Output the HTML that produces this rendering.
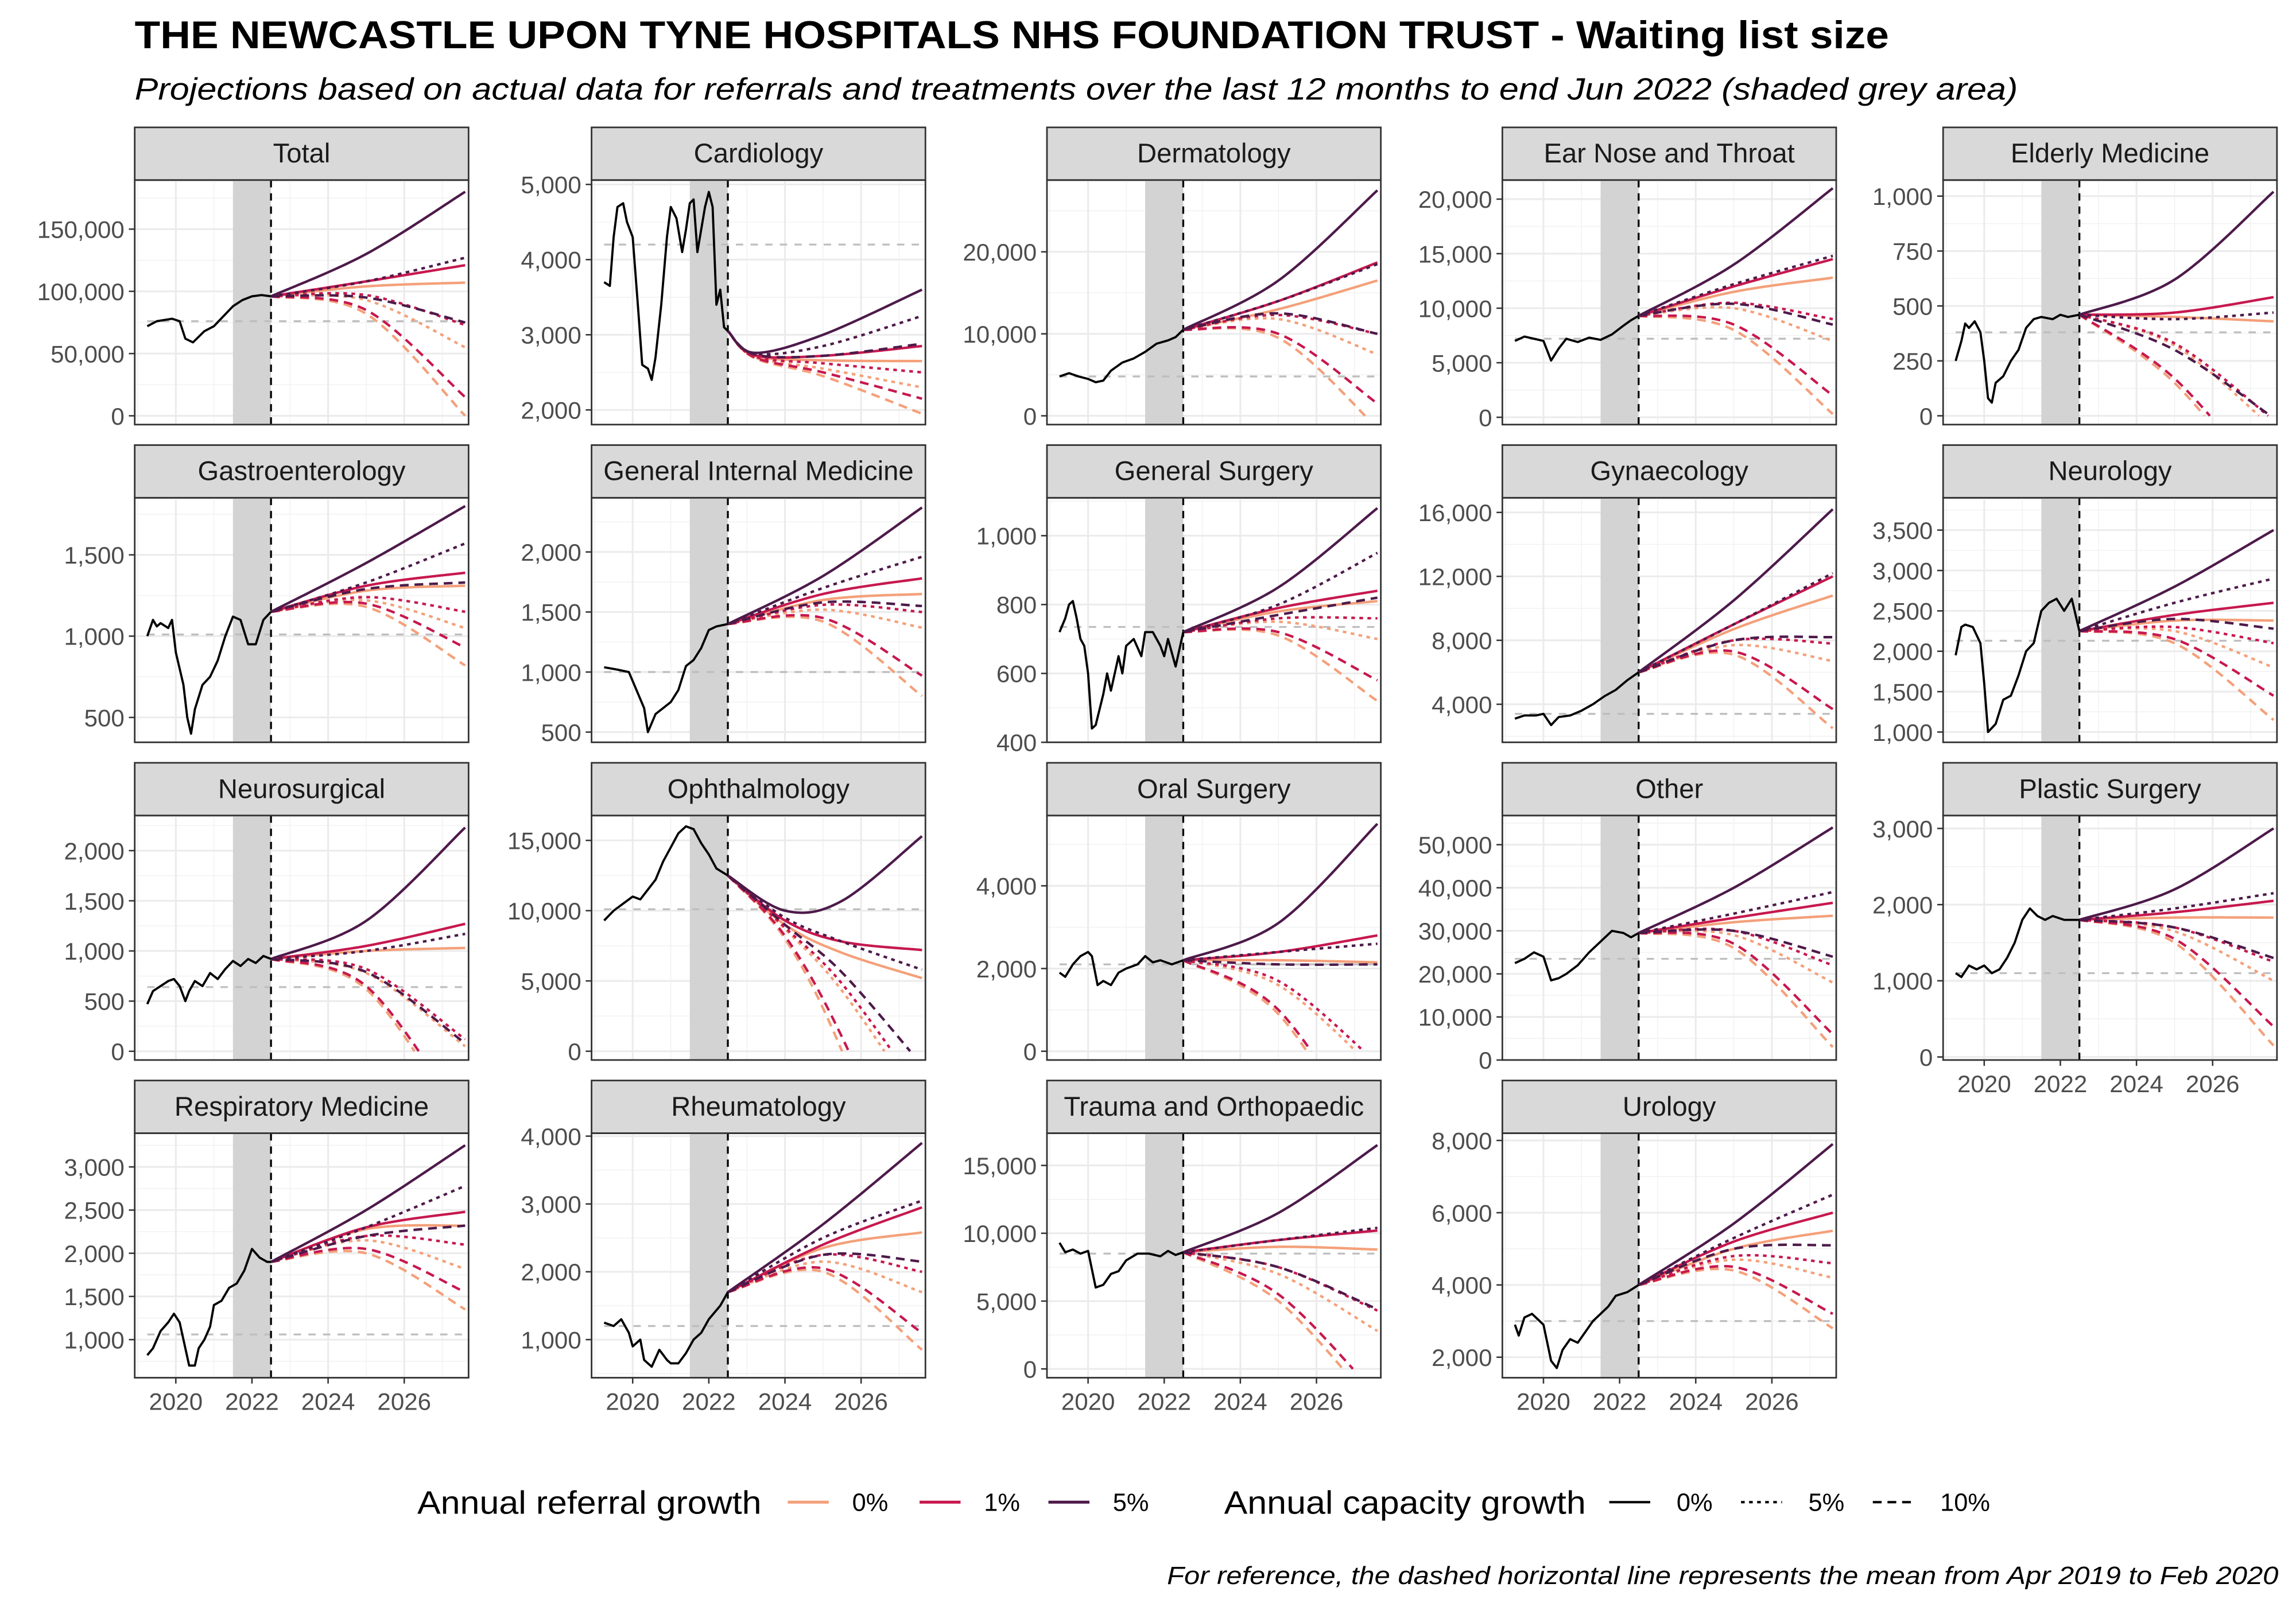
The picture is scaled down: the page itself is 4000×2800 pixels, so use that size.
<!DOCTYPE html>
<html><head><meta charset="utf-8">
<style>
html,body{margin:0;padding:0;background:#fff;}
svg{display:block;font-family:"Liberation Sans",sans-serif;}
</style></head>
<body>
<svg id="chart" width="4000" height="2800" viewBox="0 0 1568 1097.6" xmlns="http://www.w3.org/2000/svg">
<text x="92" y="33" font-size="26.5" font-weight="bold" fill="#000" textLength="1198" lengthAdjust="spacingAndGlyphs">THE NEWCASTLE UPON TYNE HOSPITALS NHS FOUNDATION TRUST - Waiting list size</text>
<text x="92" y="68" font-size="21" font-style="italic" fill="#000" textLength="1286" lengthAdjust="spacingAndGlyphs">Projections based on actual data for referrals and treatments over the last 12 months to end Jun 2022 (shaded grey area)</text>
<g id="panels"></g>
<g>
<text x="285" y="1034" font-size="22" textLength="235" lengthAdjust="spacingAndGlyphs">Annual referral growth</text>
<line x1="538" y1="1026" x2="566" y2="1026" stroke="#F4A07A" stroke-width="2"/>
<text x="582" y="1032" font-size="17">0%</text>
<line x1="628" y1="1026" x2="656" y2="1026" stroke="#C7184E" stroke-width="2"/>
<text x="672" y="1032" font-size="17">1%</text>
<line x1="716" y1="1026" x2="744" y2="1026" stroke="#4D1A4A" stroke-width="2"/>
<text x="760" y="1032" font-size="17">5%</text>
<text x="836" y="1034" font-size="22" textLength="247" lengthAdjust="spacingAndGlyphs">Annual capacity growth</text>
<line x1="1099" y1="1026" x2="1127" y2="1026" stroke="#000" stroke-width="1.6"/>
<text x="1145" y="1032" font-size="17">0%</text>
<line x1="1189" y1="1026" x2="1217" y2="1026" stroke="#000" stroke-width="1.6" stroke-dasharray="2.5 3"/>
<text x="1235" y="1032" font-size="17">5%</text>
<line x1="1279" y1="1026" x2="1307" y2="1026" stroke="#000" stroke-width="1.6" stroke-dasharray="6 4"/>
<text x="1325" y="1032" font-size="17">10%</text>
</g>
<text x="797" y="1082" font-size="17" font-style="italic" textLength="759" lengthAdjust="spacingAndGlyphs">For reference, the dashed horizontal line represents the mean from Apr 2019 to Feb 2020</text>
</svg>
<script>
// Panel names
const panelNames = ["Total","Cardiology","Dermatology","Ear Nose and Throat","Elderly Medicine","Gastroenterology","General Internal Medicine","General Surgery","Gynaecology","Neurology","Neurosurgical","Ophthalmology","Oral Surgery","Other","Plastic Surgery","Respiratory Medicine","Rheumatology","Trauma and Orthopaedic","Urology"];
// y domains [lo, hi]
const yDomains = [[-7060,189400],[1805,5058],[-1070,28750],[-670,21745],[-40,1073],[347,1851],[415,2451],[400,1110],[1620,16915],[873,3900],[-87,2350],[-625,16770],[-212,5700],[0,56780],[-40,3170],[559,3390],[438,4043],[-650,17376],[1432,8200]];
// y tick values
const yTicks = [[0,50000,100000,150000],[2000,3000,4000,5000],[0,10000,20000],[0,5000,10000,15000,20000],[0,250,500,750,1000],[500,1000,1500],[500,1000,1500,2000],[400,600,800,1000],[4000,8000,12000,16000],[1000,1500,2000,2500,3000,3500],[0,500,1000,1500,2000],[0,5000,10000,15000],[0,2000,4000],[0,10000,20000,30000,40000,50000],[0,1000,2000,3000],[1000,1500,2000,2500,3000],[1000,2000,3000,4000],[0,5000,10000,15000],[2000,4000,6000,8000]];
// pre-pandemic means
const means = [76000,4200,4800,7200,380,1010,1000,735,3400,2130,640,10100,2100,23500,1100,1060,1200,8500,3000];
// historical series: [year, value]
const hist = [
[[2019.25,72000],[2019.5,76000],[2019.9,78000],[2020.1,76000],[2020.25,62000],[2020.45,59000],[2020.75,68000],[2021,72000],[2021.25,80000],[2021.5,88000],[2021.75,93000],[2022,96000],[2022.25,97000],[2022.5,96000]],
[[2019.25,3700],[2019.4,3650],[2019.5,4300],[2019.6,4700],[2019.75,4750],[2019.85,4500],[2020,4300],[2020.15,3300],[2020.25,2600],[2020.4,2550],[2020.5,2400],[2020.6,2700],[2020.75,3400],[2020.9,4300],[2021,4700],[2021.15,4550],[2021.3,4100],[2021.4,4400],[2021.5,4750],[2021.6,4800],[2021.7,4100],[2021.8,4400],[2021.9,4700],[2022,4900],[2022.1,4700],[2022.2,3400],[2022.3,3600],[2022.4,3100],[2022.5,3050]],
[[2019.25,4800],[2019.5,5200],[2019.75,4800],[2020,4500],[2020.2,4100],[2020.4,4300],[2020.6,5500],[2020.9,6500],[2021.2,7000],[2021.5,7800],[2021.8,8800],[2022.1,9200],[2022.3,9600],[2022.5,10500]],
[[2019.25,7000],[2019.5,7400],[2019.75,7200],[2020,7000],[2020.2,5200],[2020.4,6300],[2020.6,7200],[2020.9,6900],[2021.2,7300],[2021.5,7100],[2021.8,7600],[2022.1,8400],[2022.3,8900],[2022.5,9300]],
[[2019.25,250],[2019.4,340],[2019.5,420],[2019.6,400],[2019.75,430],[2019.9,380],[2020,250],[2020.1,80],[2020.2,60],[2020.3,150],[2020.5,180],[2020.7,250],[2020.9,300],[2021.1,400],[2021.3,440],[2021.5,450],[2021.8,440],[2022,460],[2022.2,450],[2022.5,460]],
[[2019.25,1000],[2019.4,1100],[2019.5,1060],[2019.6,1080],[2019.8,1050],[2019.9,1100],[2020,900],[2020.2,700],[2020.3,500],[2020.4,400],[2020.5,550],[2020.7,700],[2020.9,750],[2021.1,850],[2021.3,1000],[2021.5,1120],[2021.7,1100],[2021.9,950],[2022.1,950],[2022.3,1100],[2022.5,1150]],
[[2019.25,1040],[2019.6,1020],[2019.9,1000],[2020.1,850],[2020.3,700],[2020.4,500],[2020.6,650],[2020.8,700],[2021,750],[2021.2,850],[2021.4,1050],[2021.6,1100],[2021.8,1200],[2022,1350],[2022.2,1380],[2022.5,1400]],
[[2019.25,720],[2019.4,760],[2019.5,800],[2019.6,810],[2019.7,760],[2019.8,700],[2019.9,680],[2020,600],[2020.1,440],[2020.2,450],[2020.4,540],[2020.5,600],[2020.6,550],[2020.8,650],[2020.9,600],[2021,680],[2021.2,700],[2021.4,650],[2021.5,720],[2021.7,720],[2021.9,680],[2022,650],[2022.1,700],[2022.3,620],[2022.5,720]],
[[2019.25,3100],[2019.5,3300],[2019.8,3300],[2020,3400],[2020.2,2700],[2020.4,3200],[2020.7,3300],[2021,3600],[2021.3,4000],[2021.6,4500],[2021.9,4900],[2022.2,5500],[2022.5,6000]],
[[2019.25,1950],[2019.4,2300],[2019.5,2330],[2019.7,2300],[2019.9,2100],[2020,1600],[2020.1,1000],[2020.3,1100],[2020.5,1400],[2020.7,1450],[2020.9,1700],[2021.1,2000],[2021.3,2100],[2021.5,2500],[2021.7,2600],[2021.9,2650],[2022.1,2500],[2022.3,2650],[2022.5,2250]],
[[2019.25,470],[2019.4,600],[2019.6,650],[2019.8,700],[2019.95,720],[2020.1,650],[2020.25,500],[2020.35,600],[2020.5,700],[2020.7,650],[2020.9,780],[2021.1,720],[2021.3,820],[2021.5,900],[2021.7,850],[2021.9,920],[2022.1,880],[2022.3,950],[2022.5,920]],
[[2019.25,9300],[2019.5,10000],[2019.75,10500],[2020,11000],[2020.2,10800],[2020.4,11500],[2020.6,12200],[2020.8,13500],[2021,14500],[2021.2,15500],[2021.4,16000],[2021.6,15800],[2021.8,14800],[2022,14000],[2022.2,13000],[2022.5,12500]],
[[2019.25,1900],[2019.4,1800],[2019.6,2100],[2019.8,2300],[2020,2400],[2020.1,2300],[2020.25,1600],[2020.4,1700],[2020.6,1600],[2020.8,1900],[2021,2000],[2021.3,2100],[2021.5,2300],[2021.7,2150],[2021.9,2200],[2022.2,2100],[2022.5,2200]],
[[2019.25,22500],[2019.5,23500],[2019.75,25000],[2020,24000],[2020.2,18500],[2020.4,19000],[2020.6,20000],[2020.9,22000],[2021.2,25000],[2021.5,27500],[2021.8,30000],[2022.1,29500],[2022.3,28500],[2022.5,29500]],
[[2019.25,1100],[2019.4,1050],[2019.6,1200],[2019.8,1150],[2020,1200],[2020.2,1100],[2020.4,1150],[2020.6,1300],[2020.8,1500],[2021,1800],[2021.2,1950],[2021.4,1850],[2021.6,1800],[2021.8,1850],[2022.1,1800],[2022.5,1800]],
[[2019.25,820],[2019.4,900],[2019.6,1100],[2019.8,1200],[2019.95,1300],[2020.1,1200],[2020.25,900],[2020.35,700],[2020.5,700],[2020.6,900],[2020.75,1000],[2020.9,1150],[2021,1400],[2021.2,1450],[2021.4,1600],[2021.6,1650],[2021.8,1800],[2022,2050],[2022.2,1950],[2022.4,1900],[2022.5,1900]],
[[2019.25,1250],[2019.5,1200],[2019.7,1300],[2019.9,1100],[2020,900],[2020.2,1000],[2020.3,700],[2020.5,600],[2020.7,850],[2020.9,700],[2021,650],[2021.2,650],[2021.4,800],[2021.6,1000],[2021.8,1100],[2022,1300],[2022.3,1500],[2022.5,1700]],
[[2019.25,9300],[2019.4,8600],[2019.6,8800],[2019.8,8500],[2020,8700],[2020.2,6000],[2020.4,6200],[2020.6,7000],[2020.8,7200],[2021,8000],[2021.3,8500],[2021.6,8500],[2021.9,8300],[2022.1,8700],[2022.3,8400],[2022.5,8600]],
[[2019.25,2900],[2019.35,2600],[2019.5,3100],[2019.7,3200],[2019.9,3000],[2020,2900],[2020.2,1900],[2020.35,1700],[2020.5,2200],[2020.7,2500],[2020.9,2400],[2021.1,2700],[2021.3,3000],[2021.5,3200],[2021.7,3400],[2021.9,3700],[2022.2,3800],[2022.5,4000]]
];
// projection times per panel (null = default)
const defaultProjTimes = [2022.5,2025,2027.6];
const projTimes = {1:[2022.5,2023.2,2025,2027.6], 11:[2022.5,2024,2025.5,2027.6]};
// scenario order: ref0cap0, ref1cap0, ref5cap0, ref0cap5, ref1cap5, ref5cap5, ref0cap10, ref1cap10, ref5cap10
const scenarioRef = [0,1,2,0,1,2,0,1,2];
const scenarioCap = [0,0,0,1,1,1,2,2,2];
// projection values
const proj = [
[[104000,107000],[108000,121000],[130000,180000],[93000,55000],[97000,73000],[108000,127000],[82000,0],[85000,15000],[95000,75000]],
[[3050,2720,2660,2650],[3050,2730,2720,2850],[3050,2760,3000,3600],[3050,2700,2550,2300],[3050,2710,2620,2500],[3050,2750,2850,3250],[3050,2690,2450,1950],[3050,2700,2500,2150],[3050,2740,2720,2880]],
[[13000,16500],[14000,18700],[16500,27500],[11800,7500],[12300,10000],[14000,18500],[9500,-1500],[10000,1500],[12500,10000]],
[[11500,12800],[12000,14500],[14000,21000],[10000,7000],[10500,9000],[12200,14800],[8000,300],[8500,2000],[10400,8500]],
[[450,430],[470,540],[620,1020],[320,-60],[330,-20],[440,470],[150,-400],[170,-350],[300,-10]],
[[1280,1310],[1310,1390],[1450,1800],[1220,1050],[1240,1150],[1330,1570],[1180,820],[1200,930],[1290,1330]],
[[1600,1650],[1650,1780],[1800,2370],[1520,1370],[1560,1500],[1700,1960],[1420,800],[1450,970],[1580,1550]],
[[780,810],[790,840],[850,1080],[750,700],[760,760],[800,950],[710,520],[720,580],[770,820]],
[[8700,10800],[9000,12000],[10500,16200],[7700,6700],[8000,7800],[9000,12200],[7100,2500],[7300,3700],[8000,8200]],
[[2380,2380],[2450,2600],[2800,3500],[2250,1800],[2300,2100],[2600,2900],[2100,1150],[2150,1450],[2400,2280]],
[[1000,1030],[1050,1270],[1300,2230],[780,50],[820,120],[1000,1170],[620,-800],[650,-700],[790,80]],
[[12500,9000,7000,5200],[12500,9300,7800,7200],[12500,10000,10700,15300],[12500,8700,4300,-4000],[12500,8800,4800,-3000],[12500,9500,7800,5800],[12500,8000,0,-15000],[12500,8200,1000,-12000],[12500,9000,5600,-1000]],
[[2200,2150],[2400,2800],[3100,5500],[1600,-500],[1700,-300],[2400,2600],[900,-2800],[1000,-2500],[2100,2100]],
[[32000,33500],[33000,36500],[40000,54000],[29000,18000],[30000,22000],[34000,39000],[26000,3000],[27000,6000],[30000,24000]],
[[1830,1830],[1900,2050],[2200,3000],[1650,1000],[1700,1250],[1950,2150],[1500,150],[1550,400],[1700,1300]],
[[2280,2320],[2300,2480],[2500,3250],[2150,1820],[2200,2100],[2300,2780],[2000,1350],[2050,1550],[2200,2320]],
[[2350,2580],[2400,2950],[2700,3900],[2150,1700],[2250,2000],[2500,3050],[2000,850],[2050,1100],[2250,2150]],
[[9000,8800],[9500,10200],[11500,16500],[7000,2800],[7500,4300],[9500,10400],[5000,-3000],[5500,-2000],[7500,4400]],
[[5000,5500],[5200,6000],[5700,7900],[4700,4200],[4800,4600],[5300,6500],[4400,2800],[4500,3200],[5000,5100]]
];
const xTickYears = [2020,2022,2024,2026];

const refColors = ["#F4A07A","#C7184E","#4D1A4A"];
const capDash = ["none","2.5 3","6 4"];
const NS = "http://www.w3.org/2000/svg";
const colLeft = [92,404,715,1026,1327];
const rowTop = [87,304,521,738];
const PW = 228, SH = 36, PH = 167;
const T0 = 2018.92, T1 = 2027.69;
const root = document.getElementById('panels');
function mk(tag, attrs, parent){const e=document.createElementNS(NS,tag);for(const k in attrs)e.setAttribute(k,attrs[k]);parent.appendChild(e);return e;}
function fmt(v){return v.toLocaleString('en-US');}
function catmull(pts, n){
  const out=[];
  for(let i=0;i<pts.length-1;i++){
    const p0=pts[Math.max(0,i-1)],p1=pts[i],p2=pts[i+1],p3=pts[Math.min(pts.length-1,i+2)];
    for(let s=0;s<n;s++){
      const t=s/n,t2=t*t,t3=t2*t;
      const f=(a,b,c,d)=>0.5*((2*b)+(-a+c)*t+(2*a-5*b+4*c-d)*t2+(-a+3*b-3*c+d)*t3);
      out.push([f(p0[0],p1[0],p2[0],p3[0]),f(p0[1],p1[1],p2[1],p3[1])]);
    }
  }
  out.push(pts[pts.length-1]);
  return out;
}
panelNames.forEach((name,i)=>{
  const c=i%5, r=Math.floor(i/5);
  const L=colLeft[c], top=rowTop[r], pt=top+SH, pb=pt+PH;
  const [lo,hi]=yDomains[i];
  const xs=t=>L+(t-T0)/(T1-T0)*PW;
  const ys=v=>pb-(v-lo)/(hi-lo)*PH;
  const g=mk('g',{},root);
  
  
  const strip=mk('rect',{x:L,y:top,width:PW,height:SH,fill:'#d9d9d9',stroke:'#333',"stroke-width":1.1},g);
  
  
  const st=mk('text',{x:L+PW/2,y:top+24,"font-size":18.5,"text-anchor":"middle",fill:'#1a1a1a'},g);
  st.textContent=name;
  
  
  const clipId='clip'+i;
  const cp=mk('clipPath',{id:clipId},g);mk('rect',{x:L,y:pt,width:PW,height:PH},cp);
  const pg=mk('g',{"clip-path":'url(#'+clipId+')'},g);
  for(let y=2019;y<=2027;y+=2) mk('line',{x1:xs(y),x2:xs(y),y1:pt,y2:pb,stroke:'#f2f2f2',"stroke-width":0.6},pg);
  const tk=yTicks[i], step=tk[1]-tk[0];
  for(let v=tk[0]-step/2; v<hi; v+=step) mk('line',{x1:L,x2:L+PW,y1:ys(v),y2:ys(v),stroke:'#f2f2f2',"stroke-width":0.6},pg);
  xTickYears.forEach(y=>mk('line',{x1:xs(y),x2:xs(y),y1:pt,y2:pb,stroke:'#ebebeb',"stroke-width":1.2},pg));
  tk.forEach(v=>mk('line',{x1:L,x2:L+PW,y1:ys(v),y2:ys(v),stroke:'#ebebeb',"stroke-width":1.2},pg));
  const sh=mk('rect',{x:xs(2021.5),y:pt,width:xs(2022.5)-xs(2021.5),height:PH,fill:'#d3d3d3'},pg);
  
  
  const ml=mk('line',{x1:xs(2019.25),x2:xs(2027.6),y1:ys(means[i]),y2:ys(means[i]),stroke:'#bebebe',"stroke-width":1.3,"stroke-dasharray":'5 5'},pg);
  
  
  mk('line',{x1:xs(2022.5),x2:xs(2022.5),y1:pt,y2:pb,stroke:'#000',"stroke-width":1.3,"stroke-dasharray":'5 4'},pg);
  const times=projTimes[i]||defaultProjTimes;
  const startV=hist[i][hist[i].length-1][1];
  const order=[0,3,6,1,4,7,2,5,8];
  order.forEach(k=>{
    let vals=proj[i][k];
    if(vals.length===times.length-1) vals=[startV].concat(vals);
    const pts=catmull(times.map((t,j)=>[t,vals[j]]),30);
    const d=[];
    for(let j=0;j<pts.length;j++){
      let [t,v]=pts[j];
      if(v<0){const [tp,vp]=pts[j-1];t=tp+(t-tp)*(vp/(vp-v));d.push([t,0]);break;}
      d.push([t,v]);
    }
    const pl=mk('polyline',{points:d.map(p=>xs(p[0]).toFixed(2)+','+ys(p[1]).toFixed(2)).join(' '),fill:'none',stroke:refColors[scenarioRef[k]],"stroke-width":1.7,"stroke-dasharray":capDash[scenarioCap[k]]},pg);
    
    
  });
  const hl=mk('polyline',{points:hist[i].map(p=>xs(p[0]).toFixed(2)+','+ys(p[1]).toFixed(2)).join(' '),fill:'none',stroke:'#000',"stroke-width":1.5,"stroke-linejoin":'round'},pg);
  
  
  mk('rect',{x:L,y:pt,width:PW,height:PH,fill:'none',stroke:'#333',"stroke-width":1.1},g);
  tk.forEach(v=>{
    mk('line',{x1:L-4,x2:L,y1:ys(v),y2:ys(v),stroke:'#333',"stroke-width":1},g);
    const t=mk('text',{x:L-7,y:ys(v)+6,"font-size":16.5,"text-anchor":"end",fill:'#4d4d4d'},g);
    t.textContent=fmt(v);
    
    
  });
  if(r===3 || (c===4 && r===2)){
    xTickYears.forEach(y=>{
      mk('line',{x1:xs(y),x2:xs(y),y1:pb,y2:pb+4,stroke:'#333',"stroke-width":1},g);
      const t=mk('text',{x:xs(y),y:pb+22,"font-size":16.5,"text-anchor":"middle",fill:'#4d4d4d'},g);
      t.textContent=y;
      
      
    });
  }
});
</script>
</body></html>
